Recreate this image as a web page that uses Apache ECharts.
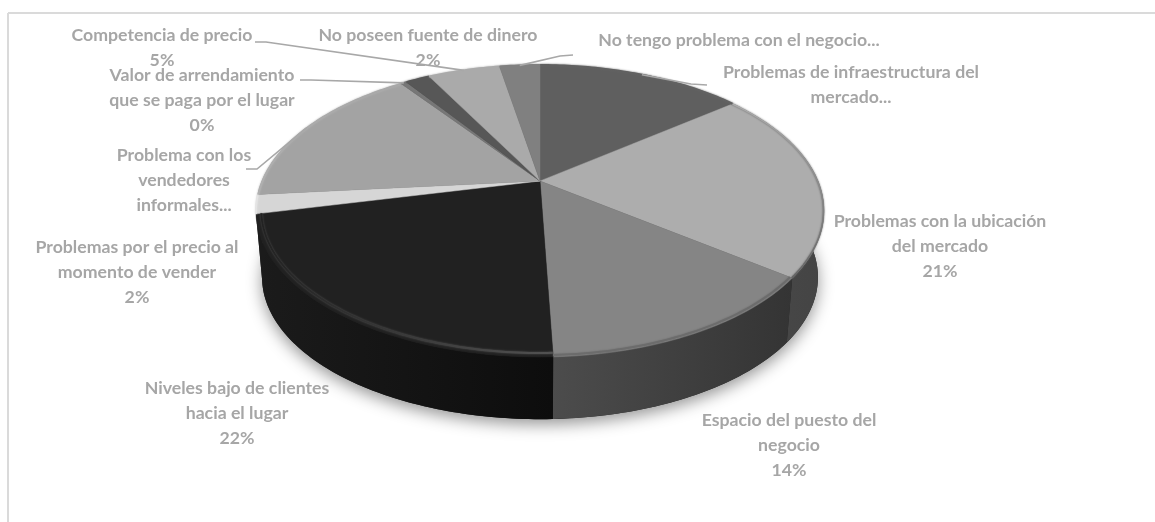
<!DOCTYPE html>
<html>
<head>
<meta charset="utf-8">
<style>html,body{margin:0;padding:0;background:#fff}#chart{width:1155px;height:522px}</style>
<script src="https://cdn.jsdelivr.net/npm/echarts@6/dist/echarts.min.js"></script>
</head>
<body>
<div id="chart"></div>
<script>
// Problem categories, clockwise from twelve o'clock
const categories = [
  'Problemas de infraestructura del\nmercado...',
  'Problemas con la ubicación\ndel mercado',
  'Espacio del puesto del\nnegocio',
  'Niveles bajo de clientes\nhacia el lugar',
  'Problemas por el precio al\nmomento de vender',
  'Problema con los\nvendedores\ninformales...',
  'Valor de arrendamiento\nque se paga por el lugar',
  'No poseen fuente de dinero',
  'Competencia de precio',
  'No tengo problema con el negocio...'
];
// Share of answers, in percent
const shares = [14.3, 21.1, 14.0, 22.0, 2.1, 16.6, 0.4, 1.7, 5.0, 2.8];
// Whether the label carries its percentage
const showsPercent = [false, true, true, true, true, false, true, true, true, false];

// Slice appearance
const topColors = ['#5f5f5f', '#adadad', '#858585', '#212121', '#d6d6d6', '#a3a3a3', '#777777', '#575757', '#aaaaaa', '#808080'];
// Wall colours, left end then right end
const wallColors = [
  ['#3a3a3a', '#3a3a3a'], ['#4a4a4a', '#444444'], ['#4c4c4c', '#343434'], ['#1b1b1b', '#0d0d0d'], ['#1b1b1b', '#1b1b1b'],
  ['#1b1b1b', '#1b1b1b'], ['#333333', '#333333'], ['#2a2a2a', '#2a2a2a'], ['#444444', '#444444'], ['#3a3a3a', '#3a3a3a']
];
// Bevel stroke along the rim: colour at the upper/left end and at the lower/right end
const rimColors = [
  ['#606060', '#626262'], ['#adadad', '#646464'], ['#6c6c6c', '#6c6c6c'], ['#222222', '#525252'], ['#e4e4e4', '#e4e4e4'],
  ['#a8a8a8', '#b0b0b0'], ['#777777', '#777777'], ['#575757', '#575757'], ['#aaaaaa', '#aaaaaa'], ['#808080', '#808080']
];
const rimInset = [1, 0.998, 0.992, 0.982, 1, 0.998, 1, 1, 1, 1];

// Label placement: centre x, top y of the first line
const labelX = [851, 940, 789, 237, 137, 184, 202, 428, 162, 739];
const labelY = [60, 209, 408, 376, 235, 143, 63, 23, 23, 28];
// Where each leader leaves its label, listed from the label side; null means no leader
const leaderTails = [
  [[707, 85], [691, 84]], null, null, null, null,
  [[246, 169], [257, 169]],
  [[300, 80], [311, 80]],
  null,
  [[255, 42], [266, 42]],
  [[573, 55], [560, 56]]
];

// Perspective disc: the apex sits above the centre of the visible ellipse
const APEX_X = 540, APEX_Y = 181, SPREAD_X = 278, SPREAD_Y = 139.8, TILT = 0.2055;
const FLOOR_Y = 248, FLOOR_X = 272, FLOOR_SPREAD_Y = 136;

function rimPoint(fraction, inset) {
  const a = fraction * 2 * Math.PI;
  const u = Math.sin(a) * inset, v = -Math.cos(a) * inset;
  const d = 1 - TILT * v;
  return [APEX_X + SPREAD_X * u / d, APEX_Y + SPREAD_Y * v / d];
}
function floorPoint(fraction) {
  const a = fraction * 2 * Math.PI;
  const u = Math.sin(a), v = -Math.cos(a);
  const d = 1 - TILT * v;
  return [APEX_X + FLOOR_X * u / d, FLOOR_Y + FLOOR_SPREAD_Y * v / d];
}
const total = shares.reduce((s, v) => s + v, 0);
const starts = [];
shares.reduce((s, v, i) => { starts[i] = s; return s + v; }, 0);
function arcSamples(i, pointAt) {
  const from = starts[i] / total, to = (starts[i] + shares[i]) / total;
  const n = Math.max(2, Math.ceil((to - from) * 360));
  const pts = [];
  for (let k = 0; k <= n; k++) pts.push(pointAt(from + (to - from) * k / n));
  return pts;
}
function sideGradient(pair, x2, y2) {
  return new echarts.graphic.LinearGradient(0, 0, x2, y2, [
    { offset: 0, color: pair[0] }, { offset: 1, color: pair[1] }
  ]);
}
const rows = shares.map((v, i) => [v, i]);
const base = { type: 'custom', coordinateSystem: 'none', silent: true, animation: false, data: rows };

const option = {
  backgroundColor: '#ffffff',
  animation: false,
  graphic: [
    { type: 'line', z: 0, shape: { x1: 8, y1: 13, x2: 1155, y2: 13 }, style: { stroke: '#dadada', lineWidth: 2 } },
    { type: 'line', z: 0, shape: { x1: 8, y1: 13, x2: 8, y2: 522 }, style: { stroke: '#dadada', lineWidth: 2 } }
  ],
  series: [
    // Soft cast shadow under the whole disc
    Object.assign({}, base, {
      z: 1,
      data: [[total]],
      renderItem: function () {
        const pts = [];
        for (let k = 0; k < 360; k++) pts.push(floorPoint(k / 360));
        return { type: 'polygon', shape: { points: pts },
          style: { fill: '#222222', shadowColor: 'rgba(0,0,0,0.42)', shadowBlur: 16, shadowOffsetY: 5 } };
      }
    }),
    // Side walls
    Object.assign({}, base, {
      z: 2,
      renderItem: function (params, api) {
        const i = api.value(1);
        const upper = arcSamples(i, f => rimPoint(f, 1));
        const lower = arcSamples(i, floorPoint).reverse();
        return { type: 'polygon', shape: { points: upper.concat(lower) }, style: { fill: sideGradient(wallColors[i], 1, 0) } };
      }
    }),
    // Top faces
    Object.assign({}, base, {
      z: 3,
      renderItem: function (params, api) {
        const i = api.value(1);
        const pts = [[APEX_X, APEX_Y]].concat(arcSamples(i, f => rimPoint(f, 1)));
        return { type: 'polygon', shape: { points: pts }, style: { fill: topColors[i], stroke: topColors[i], lineWidth: 0.5 } };
      }
    }),
    // Bevel along the rim
    Object.assign({}, base, {
      z: 4,
      renderItem: function (params, api) {
        const i = api.value(1);
        const c = rimColors[i];
        return { type: 'polyline', shape: { points: arcSamples(i, f => rimPoint(f, rimInset[i])) },
          style: { fill: null, stroke: i === 3 ? sideGradient(c, 1, 0) : sideGradient(c, 0, 1), lineWidth: i === 1 ? 1.5 : 2, shadowColor: c[1], shadowBlur: 2 } };
      }
    }),
    // Leader lines
    Object.assign({}, base, {
      z: 5,
      renderItem: function (params, api) {
        const i = api.value(1);
        if (!leaderTails[i]) return null;
        const mid = (starts[i] + shares[i] / 2) / total;
        return { type: 'polyline', shape: { points: leaderTails[i].concat([rimPoint(mid, 1)]) },
          style: { fill: null, stroke: '#a8a8a8', lineWidth: 1.6 } };
      }
    }),
    // Category labels with their rounded share
    Object.assign({}, base, {
      z: 6,
      renderItem: function (params, api) {
        const i = api.value(1);
        const text = showsPercent[i] ? categories[i] + '\n' + Math.round(api.value(0)) + '%' : categories[i];
        return { type: 'text', x: labelX[i], y: labelY[i],
          style: { text: text, align: 'center', verticalAlign: 'top', fill: '#a6a6a6', lineHeight: 25,
            font: 'bold 17.7px Lato' } };
      }
    })
  ]
};
echarts.init(document.getElementById('chart'), null, { renderer: 'canvas' }).setOption(option);
</script>
</body>
</html>
